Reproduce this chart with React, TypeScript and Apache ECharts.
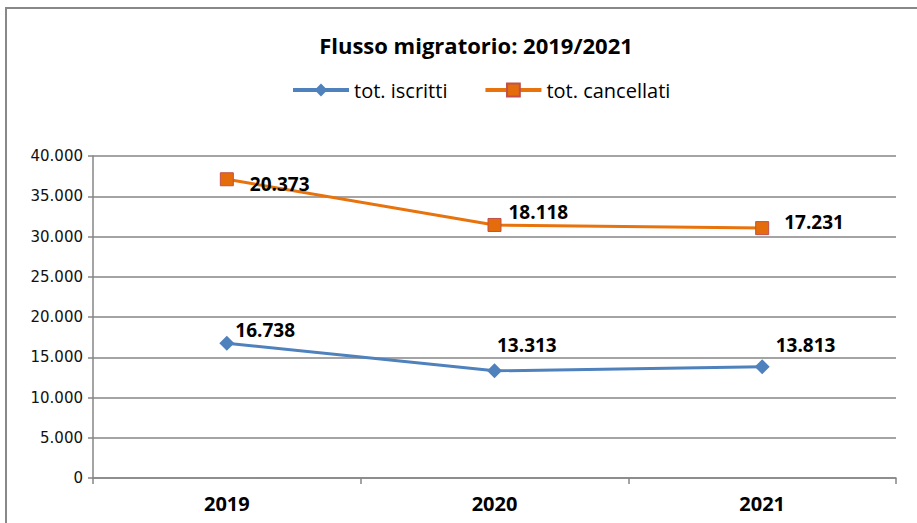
import React, { useEffect, useRef } from "react";
import * as echarts from "echarts";

const categories = ["2019", "2020", "2021"];
const iscritti = [16738, 13313, 13813];
const cancellati = [20373, 18118, 17231];
const yTicks = { min: 0, max: 40000, interval: 5000 };

const fmt = (v: number) => String(Math.round(v)).replace(/\B(?=(\d{3})+(?!\d))/g, ".");

export default function App() {
  const ref = useRef<HTMLDivElement>(null);
  useEffect(() => {
    if (!ref.current) return;
    const chart = echarts.init(ref.current, null, { renderer: "svg" });
    const labelFont = { fontFamily: "Open Sans", fontWeight: "bold" as const, fontSize: 19, color: "#000" };
    const iscrittiOffsets = [[-4, -13], [-10, -26], [1, -22]];
    const cancellatiOffsets = [[11, 5], [2, -13], [10, -6]];
    chart.setOption({
      animation: false,
      backgroundColor: "#fff",
      title: {
        text: "Flusso migratorio: 2019/2021",
        left: 471,
        textAlign: "center",
        top: 29,
        textStyle: { fontFamily: "Open Sans", fontWeight: "bold", fontSize: 22, color: "#000" },
      },
      legend: {
        top: 75,
        left: 286,
        itemWidth: 56,
        itemHeight: 16,
        itemGap: 36,
        lineStyle: { width: 4 },
        textStyle: { fontFamily: "Open Sans", fontSize: 20, color: "#000" },
        data: ["tot. iscritti", "tot. cancellati"],
      },
      graphic: [
        {
          type: "rect",
          shape: { x: 6, y: 8, width: 930, height: 540 },
          style: { fill: "none", stroke: "#888", lineWidth: 2 },
          silent: true,
        },
      ],
      grid: { left: 93, right: 21, top: 156, bottom: 45, containLabel: false },
      xAxis: {
        type: "category",
        data: categories,
        boundaryGap: true,
        axisLine: { lineStyle: { color: "#868686", width: 1.5 } },
        axisTick: { show: true, length: 6, lineStyle: { color: "#868686", width: 1.5 } },
        axisLabel: { fontFamily: "Open Sans", fontWeight: "bold", fontSize: 20, color: "#000", margin: 15 },
      },
      yAxis: {
        type: "value",
        min: yTicks.min,
        max: yTicks.max,
        interval: yTicks.interval,
        axisLine: { show: true, lineStyle: { color: "#868686", width: 1.5 } },
        axisTick: { show: true, length: 5, lineStyle: { color: "#868686", width: 1.5 } },
        splitLine: { lineStyle: { color: "#868686", width: 1.5 } },
        axisLabel: { fontFamily: "DejaVu Sans", fontSize: 15, color: "#111", margin: 10, formatter: (v: number) => fmt(v) },
      },
      series: [
        {
          name: "tot. iscritti",
          type: "line",
          stack: "tot",
          symbol: "diamond",
          symbolSize: 15,
          lineStyle: { color: "#4F81BD", width: 3 },
          itemStyle: { color: "#4F81BD" },
          data: iscritti.map((v, i) => ({
            value: v,
            label: { offset: iscrittiOffsets[i] },
          })),
          label: {
            show: true,
            position: "right",
            distance: 5,
            ...labelFont,
            formatter: (p: any) => fmt(p.value),
          },
        },
        {
          name: "tot. cancellati",
          type: "line",
          stack: "tot",
          symbol: "rect",
          symbolSize: 13,
          lineStyle: { color: "#E8720C", width: 3 },
          itemStyle: { color: "#E46C0A", borderColor: "#C0504D", borderWidth: 1 },
          data: cancellati.map((v, i) => ({
            value: v,
            label: { offset: cancellatiOffsets[i] },
          })),
          label: {
            show: true,
            position: "right",
            distance: 5,
            ...labelFont,
            formatter: (p: any) => fmt(p.value),
          },
        },
      ],
    });
    return () => chart.dispose();
  }, []);
  return (
    <div
      ref={ref}
      style={{ position: "absolute", left: 0, top: 0, width: 917, height: 523 }}
    />
  );
}
